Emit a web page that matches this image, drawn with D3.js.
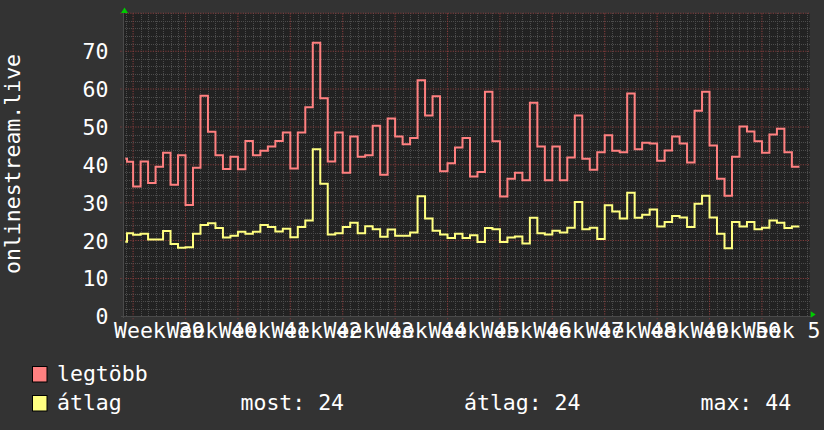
<!DOCTYPE html>
<html><head><meta charset="utf-8">
<script src="https://cdn.jsdelivr.net/npm/d3@7"></script>
<style>html,body{margin:0;padding:0;background:#333;}svg{display:block;}</style>
</head><body>
<svg id="chart" width="824" height="430"></svg>
<script>
// ---- data ----
// first two periods are partial (graph starts mid-period), then one value per day
const leadPeriods = ["2024-09-21T23:00:00Z", "2024-09-22T04:30:00Z"];
const firstDay = "2024-09-23";
const endTime = "2024-12-21";
const legtobb = [41.6, 40.8,
  34.3, 40.9, 35.2, 39.5, 43.2, 34.7, 42.5,
  29.4, 39.2, 58.2, 48.7, 42.5, 38.9, 42.1,
  38.8, 46.3, 42.5, 43.7, 44.8, 46.3, 48.5,
  39.0, 48.5, 55.2, 72.2, 57.6, 40.9, 48.5,
  37.9, 47.5, 42.1, 42.5, 50.3, 37.4, 52.2,
  47.5, 45.4, 47.1, 62.3, 53.0, 58.1, 38.3,
  40.4, 44.6, 47.1, 36.9, 38.1, 59.3, 46.2,
  31.6, 36.3, 37.9, 35.9, 56.4, 44.8, 35.9,
  44.8, 35.9, 41.9, 53.0, 41.6, 38.7, 43.3,
  47.8, 43.7, 43.3, 58.8, 44.1, 45.8, 45.6,
  41.1, 43.8, 47.5, 45.6, 40.6, 54.3, 59.3,
  45.1, 36.3, 31.8, 42.1, 50.1, 48.8, 46.2,
  43.2, 48.0, 49.5, 43.3, 39.5];
const atlag = [19.7, 21.9,
  21.5, 21.8, 20.3, 20.3, 22.5, 19.1, 18.1,
  18.2, 21.8, 24.1, 24.6, 23.3, 20.8, 21.3,
  22.3, 21.8, 22.3, 24.1, 23.6, 22.4, 23.1,
  20.9, 23.6, 25.3, 44.1, 35.0, 21.6, 21.9,
  23.6, 24.7, 21.9, 23.8, 23.0, 21.0, 22.9,
  21.3, 21.3, 22.1, 31.7, 25.8, 22.6, 21.6,
  20.7, 21.8, 20.7, 21.4, 19.6, 23.3, 23.0,
  19.6, 20.8, 21.1, 19.2, 26.0, 21.9, 21.6,
  22.6, 22.1, 23.4, 30.2, 23.0, 23.4, 20.4,
  29.3, 27.7, 25.8, 32.6, 26.0, 26.8, 28.2,
  23.7, 24.9, 26.5, 26.1, 23.6, 29.7, 31.8,
  26.1, 21.8, 18.0, 24.9, 23.7, 24.9, 23.0,
  23.4, 25.3, 24.7, 23.3, 23.7];
const yTicks = [0, 10, 20, 30, 40, 50, 60, 70];
const yTitle = "onlinestream.live";
const seriesNames = ["legtöbb", "átlag"];
const seriesColors = ["#ff8080", "#ffff80"];
const statLabels = ["most: 24", "átlag: 24", "max: 44"];

// ---- layout ----
const svg = d3.select("#chart");
const W = 824, H = 430;
const L = 123.3, R = 809.7, T = 13.3, B = 316.3;
const font = "'DejaVu Sans Mono', monospace";
const fs = 21.5;

svg.append("defs").append("clipPath").attr("id", "lblclip")
  .append("rect").attr("x", 0).attr("y", 0).attr("width", 821).attr("height", H);

svg.append("rect").attr("width", W).attr("height", H).attr("fill", "#333333");
svg.append("rect").attr("x", L).attr("y", T).attr("width", R - L).attr("height", B - T).attr("fill", "#222222");

const times = leadPeriods.map(s => new Date(s))
  .concat(d3.utcDay.range(new Date(firstDay), new Date(endTime)));
const endDate = new Date(endTime);

const x = d3.scaleUtc()
  .domain([new Date("2024-09-21T16:34:00Z"), new Date("2024-12-22T09:07:00Z")])
  .range([L, R]);
const y = d3.scaleLinear().domain([0, 80]).range([B, T]);

const px = v => Math.round(v) + 0.5;
const grid = svg.append("g");
const minorCol = "#4c4c4c", majorCol = "#823c3c";
const x0 = Math.round(L), x1 = Math.round(R), y0 = Math.round(T), y1 = Math.round(B);
const [d0, d1] = x.domain();
// minor horizontal
d3.range(0, 81, 2).filter(v => v % 10 !== 0).forEach(v => {
  grid.append("line").attr("x1", x0).attr("x2", x1).attr("y1", px(y(v))).attr("y2", px(y(v)))
    .attr("stroke", minorCol).attr("stroke-dasharray", "1 1");
});
// minor vertical (days)
d3.utcDay.range(d0, d1).forEach(d => {
  if (d.getUTCDay() === 1) return;
  grid.append("line").attr("x1", px(x(d))).attr("x2", px(x(d))).attr("y1", y0).attr("y2", y1)
    .attr("stroke", minorCol).attr("stroke-dasharray", "1 1");
});
// major horizontal (fractional position, smeared like antialiased rrd grid)
d3.range(10, 81, 10).forEach(v => {
  grid.append("line").attr("x1", L - 3).attr("x2", R).attr("y1", y(v)).attr("y2", y(v))
    .attr("stroke", majorCol).attr("stroke-width", 1.1).attr("stroke-dasharray", "1.2 1.3");
});
// major vertical (weeks)
d3.utcMonday.range(d0, d1).forEach(d => {
  grid.append("line").attr("x1", x(d)).attr("x2", x(d)).attr("y1", T).attr("y2", B + 3)
    .attr("stroke", majorCol).attr("stroke-width", 1.1).attr("stroke-dasharray", "1.2 1.3");
});

// axis lines + arrows
grid.append("line").attr("x1", x0 - 2).attr("x2", x1 + 2).attr("y1", px(B)).attr("y2", px(B)).attr("stroke", "#4a4a4a");
grid.append("line").attr("x1", px(L)).attr("x2", px(L)).attr("y1", y0 - 2).attr("y2", y1 + 2).attr("stroke", "#4a4a4a");
svg.append("path").attr("d", `M${L + 1.2},7.5 L${L + 4.7},13 L${L - 2.3},13 Z`).attr("fill", "#00cc00");
svg.append("path").attr("d", `M${R + 6},${B - 1.8} L${R + 1},${B - 5} L${R + 1},${B + 1.4} Z`).attr("fill", "#00cc00");

// series
[legtobb, atlag].forEach((vals, i) => {
  const pts = vals.map((v, k) => [times[k], v]);
  pts.push([endDate, vals[vals.length - 1]]);
  svg.append("path")
    .attr("d", d3.line().x(p => x(p[0])).y(p => y(p[1])).curve(d3.curveStepAfter)(pts))
    .attr("fill", "none").attr("stroke", seriesColors[i]).attr("stroke-width", 2)
    .attr("stroke-linejoin", "miter");
});

// y tick labels
yTicks.forEach(v => {
  svg.append("text").attr("x", 108.5).attr("y", y(v) + 8).attr("text-anchor", "end")
    .attr("font-family", font).attr("font-size", fs).attr("fill", "#ffffff").text(v);
});
// y title
svg.append("text").attr("transform", "translate(19.5,164) rotate(-90)").attr("text-anchor", "middle")
  .attr("font-family", font).attr("font-size", fs).attr("fill", "#ffffff").text(yTitle);

// x labels: centered mid-week
const fmtWeek = d3.utcFormat("%V");
const weekStarts = d3.utcMonday.range(d3.utcMonday.floor(d0), d1)
  .filter(m => x(d3.utcHour.offset(m, 84)) > L);
const xl = svg.append("g").attr("clip-path", "url(#lblclip)");
weekStarts.forEach(m => {
  xl.append("text").attr("x", x(d3.utcHour.offset(m, 84))).attr("y", 338)
    .attr("text-anchor", "middle").attr("font-family", font).attr("font-size", fs)
    .attr("fill", "#ffffff").text("Week " + fmtWeek(m));
});

// legend
const rows = [381, 410];
seriesNames.forEach((n, i) => {
  svg.append("rect").attr("x", 32.5).attr("y", rows[i] - 14.5).attr("width", 14.5).attr("height", 15.5)
    .attr("fill", seriesColors[i]).attr("stroke", "#000").attr("stroke-width", 1);
  svg.append("text").attr("x", 57).attr("y", rows[i])
    .attr("font-family", font).attr("font-size", fs).attr("fill", "#ffffff").text(n);
});
const statX = [240.5, 464, 700.5];
statLabels.forEach((s, i) => {
  svg.append("text").attr("x", statX[i]).attr("y", rows[1])
    .attr("font-family", font).attr("font-size", fs).attr("fill", "#ffffff").text(s);
});
</script>
</body></html>
